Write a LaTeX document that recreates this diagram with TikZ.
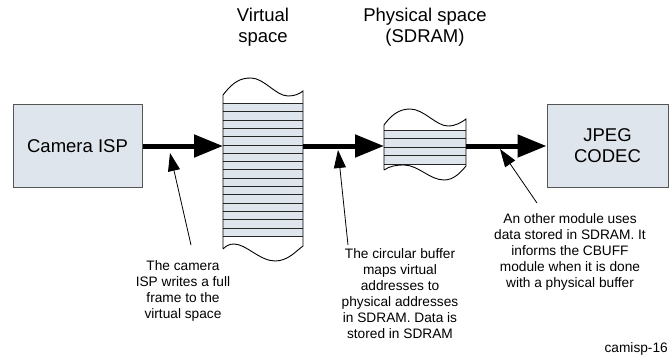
\documentclass[tikz,border=0pt]{standalone}
\usepackage{fontspec}
\setmainfont{Liberation Sans}
\usetikzlibrary{arrows.meta}
\definecolor{boxfill}{HTML}{DFE5EC}
\definecolor{boxline}{HTML}{555555}
\begin{document}
\begin{tikzpicture}[x=1pt,y=-1pt,
  bigtext/.style={font=\fontsize{18.5}{21}\selectfont, align=center},
  smalltext/.style={font=\fontsize{13.7}{16}\selectfont, align=center},
  module/.style={draw=boxline, line width=1pt, fill=boxfill, bigtext, inner sep=0pt},
  mainarrow/.style={line width=5pt, -{Triangle[length=29pt,width=22pt]}},
  callout/.style={line width=0.8pt, -{Triangle[length=18pt,width=12pt]}},
  stripeline/.style={line width=0.9pt, black!85},
  outline/.style={line width=0.9pt, black},
  ghost/.style={inner sep=0pt, outer sep=0pt}]
\clip (0,0) rectangle (670,362);
\fill[white] (0,0) rectangle (670,362);

% labels
\node[bigtext] (vlabel) at (263,27) {Virtual\\space};
\node[bigtext] (plabel) at (425,27) {Physical space\\(SDRAM)};

% modules
\node[module, minimum width=129pt, minimum height=83pt] (cam) at (77.5,146) {Camera ISP};
\node[module, minimum width=121pt, minimum height=83pt] (jpeg) at (607.5,146) {JPEG\\CODEC};

% virtual buffer
\node[ghost, minimum width=80pt, minimum height=133.3pt] (vbuf) at (263,170) {};
\foreach \i in {0,...,15}
  \fill[boxfill] (223,{103.3+\i*8.33}) rectangle (303,{103.3+(\i+1)*8.33});
\foreach \i in {0,...,16}
  \draw[stripeline] (223,{103.3+\i*8.33}) -- (303,{103.3+\i*8.33});
\draw[outline] (223,249) -- (223,95)
  .. controls (233,82) and (240,78) .. (251,78)
  .. controls (264,78) and (276,96) .. (288,96)
  .. controls (295,96) and (299,94) .. (303,91)
  -- (303,246)
  .. controls (296,251) and (288,261) .. (275,261)
  .. controls (260,261) and (246,244) .. (234,244)
  .. controls (229,244) and (226,246) .. (223,249);

% physical buffer
\node[ghost, minimum width=82pt, minimum height=34.3pt] (pbuf) at (425,147.15) {};
\foreach \i in {0,...,3}
  \fill[boxfill] (384,{130+\i*8.575}) rectangle (466,{130+(\i+1)*8.575});
\foreach \i in {0,...,4}
  \draw[stripeline] (384,{130+\i*8.575}) -- (466,{130+\i*8.575});
\draw[outline] (384,170) -- (384,125)
  .. controls (392,114) and (400,109) .. (410,109)
  .. controls (424,109) and (436,126) .. (448,126)
  .. controls (456,126) and (462,122) .. (466,119)
  -- (466,166)
  .. controls (461,172) and (454,180) .. (444,180)
  .. controls (430,180) and (418,165) .. (404,165)
  .. controls (396,165) and (390,166) .. (384,170);

% main arrows
\draw[mainarrow] (cam.east) -- (cam.east -| vbuf.west);
\draw[mainarrow] (cam.east -| vbuf.east) -- (cam.east -| pbuf.west);
\draw[mainarrow] (cam.east -| pbuf.east) -- (jpeg.west);

% callout texts
\node[smalltext] (t1) at (183,291) {The camera\\ISP writes a full\\frame to the\\virtual space};
\node[smalltext] (t2) at (400,293.5) {The circular buffer\\maps virtual\\addresses to\\physical addresses\\in SDRAM. Data is\\stored in SDRAM};
\node[smalltext] (t3) at (570,251.5) {An other module uses\\data stored in SDRAM. It\\informs the CBUFF\\module when it is done\\with a physical buffer};
\node[smalltext, anchor=east, inner sep=0pt] (tag) at (668,349) {camisp-16};

% callout arrows
\coordinate (c1s) at (191,245); \coordinate (c1e) at (170,153);
\coordinate (c2s) at (348,245); \coordinate (c2e) at (338,150);
\coordinate (c3s) at (537,203); \coordinate (c3e) at (500,149);
\draw[callout] (c1s) -- (c1e);
\draw[callout] (c2s) -- (c2e);
\draw[callout] (c3s) -- (c3e);
\end{tikzpicture}
\end{document}
